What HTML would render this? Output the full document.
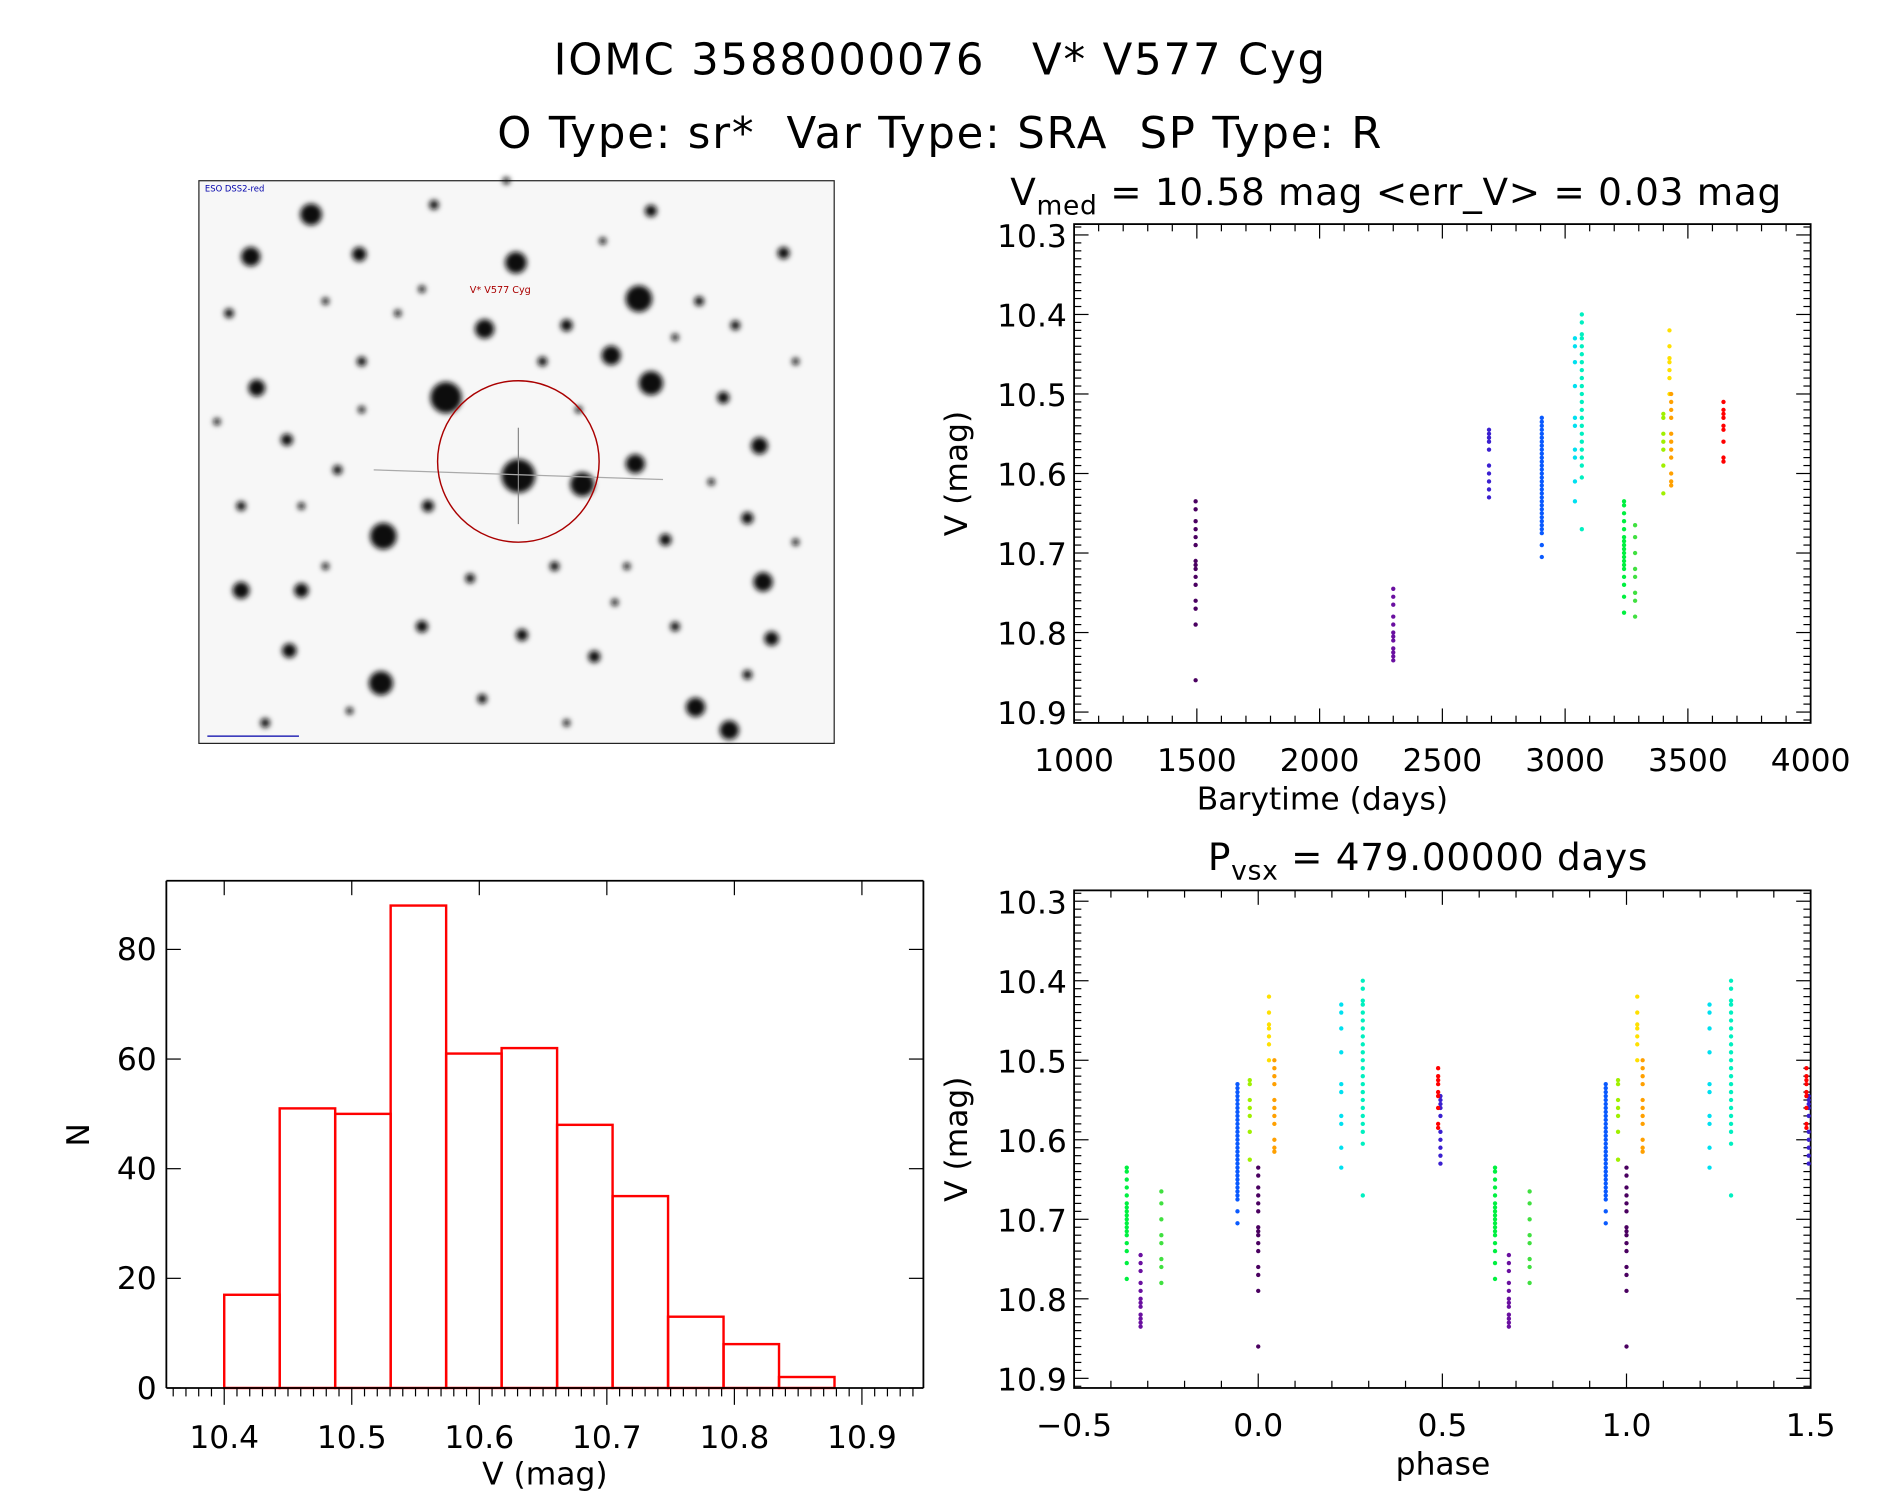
<!DOCTYPE html>
<html><head><meta charset="utf-8"><style>
html,body{margin:0;padding:0;background:#fff;}
svg{display:block;font-family:"DejaVu Sans","Liberation Sans",sans-serif;}
text{white-space:pre;}
</style></head><body>
<svg id="fig" width="1889" height="1494" viewBox="0 0 1567 1240" preserveAspectRatio="none">
<defs><filter id="blur" x="-50%" y="-50%" width="200%" height="200%"><feGaussianBlur stdDeviation="2.2"/></filter></defs>
<text x="780" y="62" font-size="36" text-anchor="middle" letter-spacing="1.5">IOMC 3588000076   V* V577 Cyg</text>
<text x="780" y="123" font-size="36" text-anchor="middle" letter-spacing="1.5">O Type: sr*  Var Type: SRA  SP Type: R</text>
<g>
<rect x="165" y="150" width="527" height="467" fill="#f7f7f7" stroke="#222" stroke-width="1"/>
<g id="stars" fill="#111" filter="url(#blur)"></g>
<line x1="430" y1="355" x2="430" y2="435" stroke="#888" stroke-width="1"/>
<line x1="310" y1="390" x2="550" y2="398" stroke="#aaa" stroke-width="1"/>
<circle cx="430" cy="383" r="67" fill="none" stroke="#a00" stroke-width="1.2"/>
<text x="415" y="243" font-size="8" fill="#a00" text-anchor="middle">V* V577 Cyg</text>
<text x="170" y="159" font-size="7" fill="#00a">ESO DSS2-red</text>
<line x1="172" y1="611" x2="248" y2="611" stroke="#00a"/>
</g>
<g id="plots"></g>
</svg>
<script>
// ---------- data ----------
const histEdgesStart = 10.40;
const histBinWidth = 0.0435;
const histCounts = [17,51,50,88,61,62,48,35,13,8,2];
const lcTimes = [1495,2300,2690,2905,3040,3068,3240,3285,3400,3425,3432,3645];
const lcColors = ["#4a0060","#6a10a0","#3a1fd0","#0a5aff","#00e0f0","#00f0c0","#00f040","#40e040","#a0f000","#ffe000","#ffa000","#ff0000"];
const lcMags = [
 [10.635,10.645,10.66,10.67,10.68,10.69,10.71,10.715,10.72,10.73,10.74,10.76,10.77,10.79,10.86],
 [10.745,10.755,10.765,10.78,10.79,10.80,10.805,10.81,10.82,10.825,10.83,10.835],
 [10.545,10.55,10.555,10.56,10.57,10.59,10.60,10.61,10.62,10.63],
 [10.53,10.535,10.54,10.545,10.55,10.555,10.56,10.565,10.57,10.575,10.58,10.585,10.59,10.595,10.60,10.605,10.61,10.615,10.62,10.625,10.63,10.635,10.64,10.645,10.65,10.655,10.66,10.665,10.67,10.675,10.69,10.705],
 [10.43,10.44,10.46,10.49,10.53,10.54,10.57,10.58,10.61,10.635],
 [10.40,10.41,10.425,10.43,10.44,10.45,10.46,10.47,10.48,10.49,10.50,10.51,10.52,10.53,10.54,10.55,10.56,10.57,10.58,10.59,10.605,10.67],
 [10.635,10.64,10.65,10.66,10.67,10.68,10.685,10.69,10.695,10.70,10.705,10.71,10.715,10.72,10.73,10.74,10.755,10.775],
 [10.665,10.68,10.70,10.72,10.73,10.75,10.76,10.78],
 [10.525,10.53,10.55,10.56,10.57,10.59,10.625],
 [10.42,10.44,10.455,10.46,10.47,10.48,10.50],
 [10.50,10.51,10.52,10.53,10.55,10.56,10.57,10.58,10.60,10.61,10.615],
 [10.51,10.52,10.525,10.53,10.54,10.545,10.56,10.58,10.585]
];
const period = 479.0, epoch = 1495;
const xTicksTime = [1000,1500,2000,2500,3000,3500,4000];
const yTicksMag = [10.3,10.4,10.5,10.6,10.7,10.8,10.9];
const xTicksPhase = [-0.5,0.0,0.5,1.0,1.5];
const xTicksHist = [10.4,10.5,10.6,10.7,10.8,10.9];
const yTicksHist = [0,20,40,60,80];
const starField = [[258,178,9],[208,213,8],[298,211,6],[428,218,9],[530,248,11],[402,273,8],[370,330,13],[507,295,8],[540,318,10],[213,322,7],[430,395,14],[483,402,10],[527,385,8],[318,445,11],[630,370,7],[250,490,6],[200,490,7],[633,483,8],[316,567,10],[577,587,8],[605,606,8],[470,270,5],[238,365,5],[355,420,5],[650,210,5],[620,430,5],[540,175,5],[493,545,5],[552,448,5],[433,527,5],[280,390,4],[600,330,5],[240,540,6],[640,530,6],[360,170,4],[460,470,4],[350,520,5],[580,250,4],[190,260,4],[300,300,4],[330,260,3],[450,300,4],[480,340,3],[560,280,3],[610,270,4],[660,300,3],[200,420,4],[270,470,3],[390,480,4],[510,500,3],[560,520,4],[660,450,3],[220,600,4],[290,590,3],[400,580,4],[470,600,3],[520,470,3],[590,400,3],[300,340,3],[350,240,3],[620,560,4],[180,350,3],[270,250,3],[500,200,3],[420,150,3],[250,420,3]];
// ---------- helpers ----------
const NS="http://www.w3.org/2000/svg";
const root=document.getElementById('plots');
function mk(tag,attrs,parent){const e=document.createElementNS(NS,tag);for(const k in attrs)e.setAttribute(k,attrs[k]);(parent||root).appendChild(e);return e;}
function txt(x,y,s,size,anchor,parent){const t=mk('text',{x:x,y:y,'font-size':size,'text-anchor':anchor||'middle'},parent);t.textContent=s;return t;}
const sg=document.getElementById('stars');
starField.forEach(s=>{const c=mk('circle',{cx:s[0],cy:s[1],r:s[2]},sg);

});

function frame(x0,y0,x1,y1,name,g){const r=mk('rect',{x:x0,y:y0,width:x1-x0,height:y1-y0,fill:'none',stroke:'#000','stroke-width':1.5},g);

}

function magPanel(X0,X1,Y0,Y1,ymTop,ymBot,xmin,xmax,xmajor,xminor,xTicks,xfmt,name){
 const g=mk('g',{});
 
 
 frame(X0,Y0,X1,Y1,name+'-frame',g);
 const sx=v=>X0+(v-xmin)/(xmax-xmin)*(X1-X0);
 const sy=m=>ymTop+(m-10.3)/0.6*(ymBot-ymTop);
 for(let v=xmin;v<=xmax+1e-9;v+=xminor){const maj=Math.abs(v/xmajor-Math.round(v/xmajor))<1e-6;const L=maj?12:6;
  mk('line',{x1:sx(v),x2:sx(v),y1:Y1,y2:Y1-L,stroke:'#000'},g);mk('line',{x1:sx(v),x2:sx(v),y1:Y0,y2:Y0+L,stroke:'#000'},g);}
 for(let i=-1;i<=62;i++){const m=10.3+i*0.01;if(sy(m)<Y0||sy(m)>Y1)continue;const L=i%10==0?12:6;
  mk('line',{x1:X0,x2:X0+L,y1:sy(m),y2:sy(m),stroke:'#000'},g);mk('line',{x1:X1,x2:X1-L,y1:sy(m),y2:sy(m),stroke:'#000'},g);}
 xTicks.forEach(v=>{const t=txt(sx(v),Y1+40,xfmt(v),26,'middle',g);
  
  });
 yTicksMag.forEach(m=>{const t=txt(X0-6,sy(m)+10,m.toFixed(1),26,'end',g);
  
  });
 const yl=mk('text',{x:0,y:0,'font-size':26,'text-anchor':'middle',transform:`translate(${X0-89},${(Y0+Y1)/2}) rotate(-90)`},g);yl.textContent='V (mag)';
 
 
 return {g,sx,sy};
}
const A=magPanel(891,1502,186,600,195,591,1000,4000,500,100,xTicksTime,v=>String(v),'light-curve');
let t1=txt(1097,672,'Barytime (days)',26,'middle',A.g);


const ttl=mk('text',{x:838,y:170,'font-size':31,'letter-spacing':0.6},A.g);ttl.innerHTML='V<tspan font-size="22" dy="8">med</tspan><tspan dy="-8"> = 10.58 mag &lt;err_V&gt; = 0.03 mag</tspan>';


lcTimes.forEach((t,i)=>{lcMags[i].forEach(m=>{const c=mk('circle',{cx:A.sx(t),cy:A.sy(m),r:1.8,fill:lcColors[i]},A.g);
 
 });});

const B=magPanel(891,1502,739,1152,748,1144,-0.5,1.5,0.5,0.1,xTicksPhase,v=>(v<0?'\u22120.5':v.toFixed(1)),'phase-plot');
let t2=txt(1197,1224,'phase',26,'middle',B.g);


const pt=mk('text',{x:1002,y:722,'font-size':31,'letter-spacing':0.6},B.g);pt.innerHTML='P<tspan font-size="22" dy="8">vsx</tspan><tspan dy="-8"> = 479.00000 days</tspan>';


lcTimes.forEach((t,i)=>{let p=((t-epoch)/period)%1;if(p>=0.5)p-=1;
 [p,p+1].forEach(ph=>{lcMags[i].forEach(m=>{const c=mk('circle',{cx:B.sx(ph),cy:B.sy(m),r:1.8,fill:lcColors[i]},B.g);
  
  });});});

(function(){
 const X0=138,X1=766,Y0=731,Y1=1152;
 const g=mk('g',{});
 
 
 const sx=v=>186+(v-10.4)/0.5*(715-186);
 const sy=n=>Y1-n*4.55;
 histCounts.forEach((n,i)=>{const a=sx(histEdgesStart+i*histBinWidth),b=sx(histEdgesStart+(i+1)*histBinWidth);
  const r=mk('rect',{x:a,y:sy(n),width:b-a,height:Y1-sy(n),fill:'none',stroke:'#f00','stroke-width':2},g);
  
  });
 mk('line',{x1:X0,x2:X0,y1:Y0,y2:Y1,stroke:'#000','stroke-width':1.5},g);
 mk('line',{x1:X1,x2:X1,y1:Y0,y2:Y1,stroke:'#000','stroke-width':1.5},g);
 mk('line',{x1:X0,x2:X1,y1:Y0,y2:Y0,stroke:'#000','stroke-width':1.5},g);
 mk('line',{x1:X0,x2:X1,y1:Y1,y2:Y1,stroke:'#000','stroke-width':1.5},g);
 for(let i=0;;i++){const v=10.36+i*0.01;const x=sx(v);if(x>X1-2)break;if(x<X0+2)continue;const maj=Math.abs(v*10-Math.round(v*10))<1e-6;
  mk('line',{x1:x,x2:x,y1:Y1,y2:Y1+(maj?14:7),stroke:'#000'},g);
  if(maj) mk('line',{x1:x,x2:x,y1:Y0,y2:Y0+12,stroke:'#000'},g);}
 xTicksHist.forEach(v=>{const t=txt(sx(v),Y1+50,v.toFixed(1),26,'middle',g);
  
  });
 yTicksHist.forEach(n=>{mk('line',{x1:X0,x2:X0+12,y1:sy(n),y2:sy(n),stroke:'#000'},g);mk('line',{x1:X1,x2:X1-12,y1:sy(n),y2:sy(n),stroke:'#000'},g);
  const t=txt(X0-8,sy(n)+9,String(n),26,'end',g);
  
  });
 const xt=txt(452,1232,'V (mag)',26,'middle',g);
 
 
 const yt=mk('text',{x:0,y:0,'font-size':26,'text-anchor':'middle',transform:'translate(74,942) rotate(-90)'},g);yt.textContent='N';
 
 
})();
</script>
</body></html>
